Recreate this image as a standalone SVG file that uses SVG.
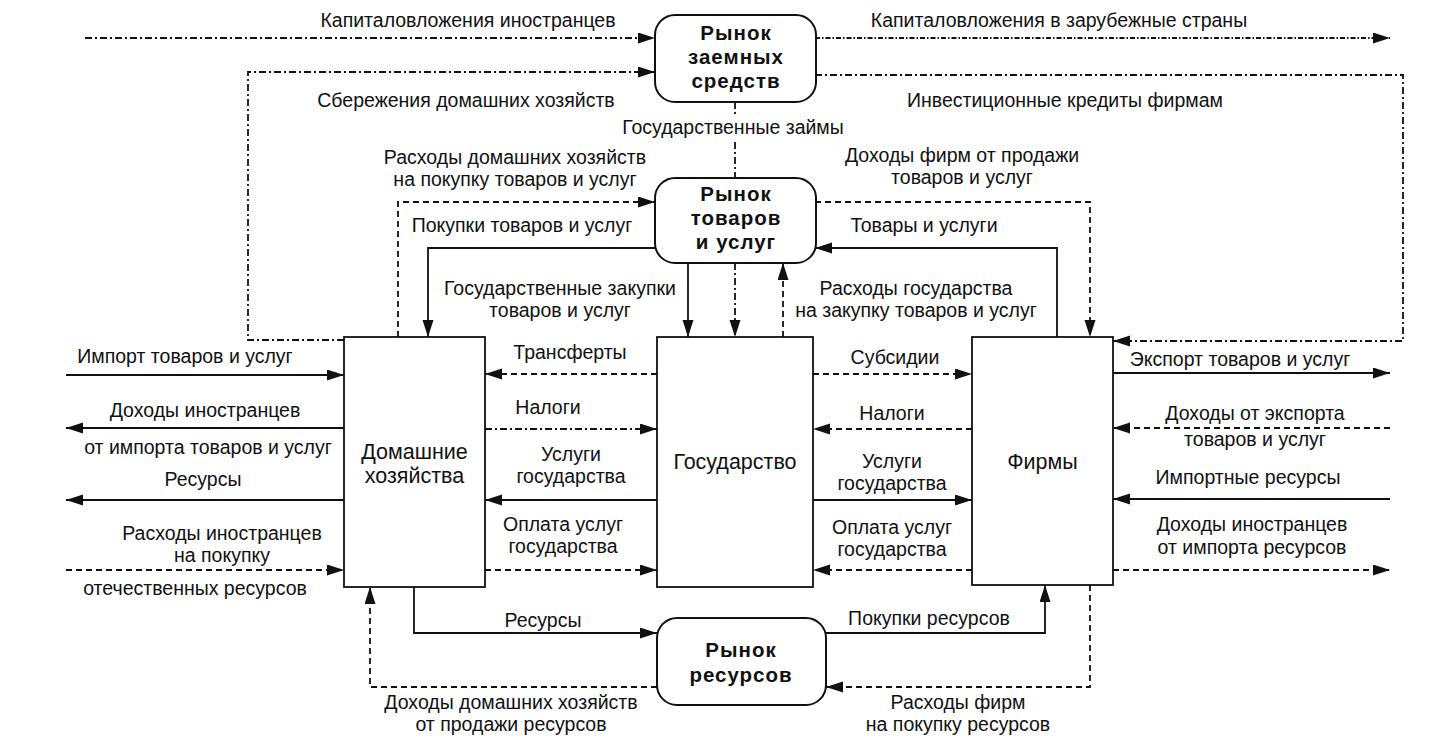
<svg xmlns="http://www.w3.org/2000/svg" width="1437" height="746" viewBox="0 0 1437 746">
<defs>
<marker id="ah" markerUnits="userSpaceOnUse" markerWidth="20" markerHeight="14" refX="17" refY="5.5" orient="auto">
<path d="M0,0 L17,5.5 L0,11 z" fill="#111"/>
</marker>
<style>
.bg{fill:#fff}
.box{fill:#fff;stroke:#111;stroke-width:1.8}
.rbox{fill:#fff;stroke:#111;stroke-width:2}
.c{fill:none;stroke:#111;stroke-width:1.8;marker-end:url(#ah)}
.solid{}
.dash{stroke-dasharray:6 4}
.dd{stroke-dasharray:7 3 2 3}
.fine{stroke-dasharray:5 2 1.5 2}
text{font-family:"Liberation Sans",Arial,sans-serif;fill:#111}
.lb{font-size:19.5px;text-anchor:middle}
.bl{font-size:21.5px;text-anchor:middle}
.mk{font-size:20.5px;font-weight:bold;text-anchor:middle;letter-spacing:1px}
</style>
</defs>
<rect class="bg" x="0" y="0" width="1437" height="746"/>

<g id="connectors">
<path class="c dd" d="M85,38 H655"/>
<path class="c fine" d="M815,38 H1390"/>
<path class="c dd" d="M344,340 H248 V72 H655"/>
<path class="c dd" d="M815,75 H1403 V341 H1113"/>
<path class="c dd" d="M735,102 V117 M735,142 V178 M735,263 V337"/>
<path class="c dash" d="M398,337 V202 H655"/>
<path class="c solid" d="M655,248 H428 V337"/>
<path class="c solid" d="M688,263 V337"/>
<path class="c dash" d="M783,337 V263"/>
<path class="c dash" d="M815,202 H1090 V337"/>
<path class="c solid" d="M1057,337 V248 H815"/>

<path class="c solid" d="M66,375 H344"/>
<path class="c solid" d="M344,428 H66"/>
<path class="c solid" d="M344,500 H66"/>
<path class="c dash" d="M66,570 H344"/>

<path class="c dash" d="M657,374 H485"/>
<path class="c dd" d="M485,429 H657"/>
<path class="c solid" d="M657,500 H485"/>
<path class="c dash" d="M485,570 H657"/>

<path class="c dash" d="M813,374 H972"/>
<path class="c dash" d="M972,429 H813"/>
<path class="c solid" d="M813,500 H972"/>
<path class="c dash" d="M972,570 H813"/>

<path class="c solid" d="M1113,373 H1390"/>
<path class="c dash" d="M1390,428 H1113"/>
<path class="c solid" d="M1390,499 H1113"/>
<path class="c dash" d="M1113,570 H1390"/>

<path class="c solid" d="M414,587 V633 H657"/>
<path class="c solid" d="M826,633 H1045 V585"/>
<path class="c dash" d="M657,687 H370 V587"/>
<path class="c dash" d="M1090,585 V687 H826"/>
</g>

<g id="labels">
<text class="lb" x="468" y="27">Капиталовложения иностранцев</text>
<text class="lb" x="1059" y="27">Капиталовложения в зарубежные страны</text>
<text class="lb" x="466" y="107">Сбережения домашних хозяйств</text>
<text class="lb" x="1065" y="107">Инвестиционные кредиты фирмам</text>
<text class="lb" x="733" y="134">Государственные займы</text>
<text class="lb" x="515" y="164">Расходы домашних хозяйств</text>
<text class="lb" x="515" y="186">на покупку товаров и услуг</text>
<text class="lb" x="962" y="162">Доходы фирм от продажи</text>
<text class="lb" x="962" y="184">товаров и услуг</text>
<text class="lb" x="522" y="232">Покупки товаров и услуг</text>
<text class="lb" x="924" y="232">Товары и услуги</text>
<text class="lb" x="560" y="295">Государственные закупки</text>
<text class="lb" x="560" y="317">товаров и услуг</text>
<text class="lb" x="916" y="295">Расходы государства</text>
<text class="lb" x="916" y="317">на закупку товаров и услуг</text>

<text class="lb" x="185" y="363">Импорт товаров и услуг</text>
<text class="lb" x="205" y="417">Доходы иностранцев</text>
<text class="lb" x="208" y="454">от импорта товаров и услуг</text>
<text class="lb" x="203" y="486">Ресурсы</text>
<text class="lb" x="222" y="540">Расходы иностранцев</text>
<text class="lb" x="222" y="562">на покупку</text>
<text class="lb" x="195" y="595">отечественных ресурсов</text>

<text class="lb" x="570" y="359">Трансферты</text>
<text class="lb" x="548" y="414">Налоги</text>
<text class="lb" x="571" y="461">Услуги</text>
<text class="lb" x="571" y="483">государства</text>
<text class="lb" x="563" y="531">Оплата услуг</text>
<text class="lb" x="563" y="553">государства</text>

<text class="lb" x="895" y="364">Субсидии</text>
<text class="lb" x="892" y="420">Налоги</text>
<text class="lb" x="892" y="468">Услуги</text>
<text class="lb" x="892" y="490">государства</text>
<text class="lb" x="892" y="534">Оплата услуг</text>
<text class="lb" x="892" y="556">государства</text>

<text class="lb" x="1240" y="366">Экспорт товаров и услуг</text>
<text class="lb" x="1255" y="420">Доходы от экспорта</text>
<text class="lb" x="1255" y="446">товаров и услуг</text>
<text class="lb" x="1248" y="484">Импортные ресурсы</text>
<text class="lb" x="1252" y="531">Доходы иностранцев</text>
<text class="lb" x="1252" y="554">от импорта ресурсов</text>

<text class="lb" x="543" y="627">Ресурсы</text>
<text class="lb" x="929" y="625">Покупки ресурсов</text>
<text class="lb" x="511" y="709">Доходы домашних хозяйств</text>
<text class="lb" x="511" y="731">от продажи ресурсов</text>
<text class="lb" x="958" y="709">Расходы фирм</text>
<text class="lb" x="958" y="731">на покупку ресурсов</text>
</g>

<g id="loan-market">
<rect class="rbox" x="655" y="15" width="161" height="87" rx="20"/>
<text class="mk" x="736" y="40">Рынок</text>
<text class="mk" x="736" y="64">заемных</text>
<text class="mk" x="736" y="88">средств</text>
</g>
<g id="goods-market">
<rect class="rbox" x="655" y="178" width="161" height="85" rx="20"/>
<text class="mk" x="736" y="201">Рынок</text>
<text class="mk" x="736" y="225">товаров</text>
<text class="mk" x="736" y="249">и услуг</text>
</g>
<g id="resource-market">
<rect class="rbox" x="657" y="618" width="169" height="87" rx="20"/>
<text class="mk" x="741" y="657">Рынок</text>
<text class="mk" x="741" y="682">ресурсов</text>
</g>
<g id="households">
<rect class="box" x="344" y="337" width="141" height="250"/>
<text class="bl" x="414.5" y="459">Домашние</text>
<text class="bl" x="414.5" y="483">хозяйства</text>
</g>
<g id="state">
<rect class="box" x="657" y="337" width="156" height="250"/>
<text class="bl" x="735" y="469">Государство</text>
</g>
<g id="firms">
<rect class="box" x="972" y="337" width="141" height="248"/>
<text class="bl" x="1042.5" y="469">Фирмы</text>
</g>
</svg>
